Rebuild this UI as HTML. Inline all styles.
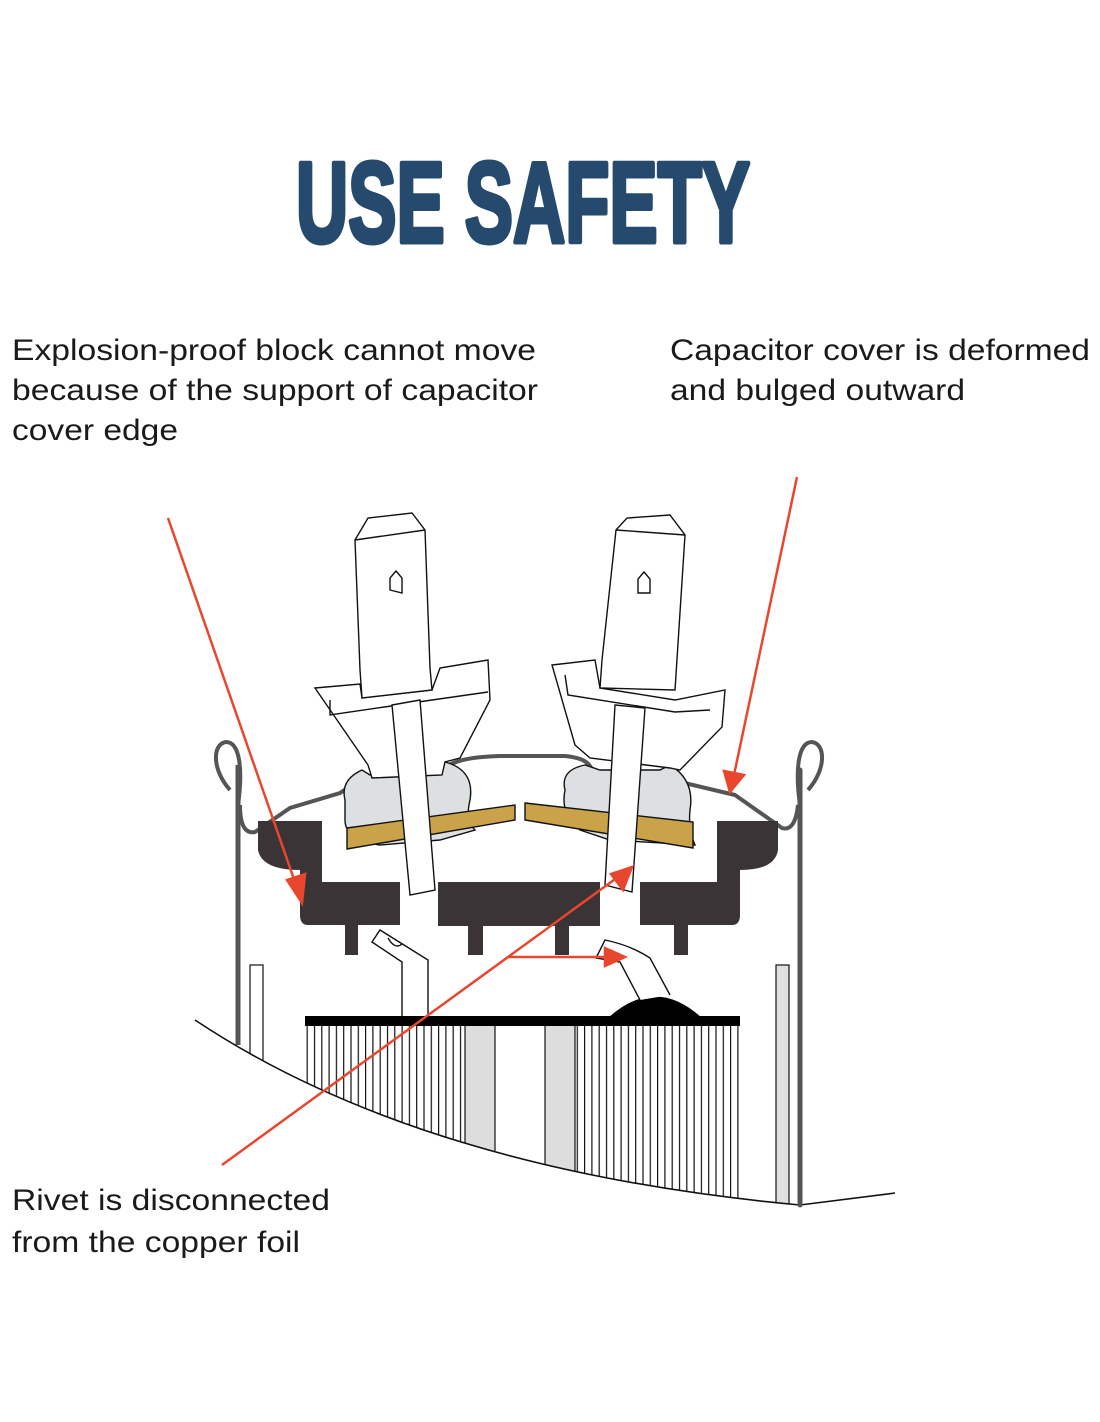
<!DOCTYPE html>
<html><head><meta charset="utf-8"><style>
html,body{margin:0;padding:0;background:#fff;}
svg{display:block;}
text{font-family:"Liberation Sans",sans-serif;}
</style></head><body>
<svg width="1100" height="1422" viewBox="0 0 1100 1422" xmlns="http://www.w3.org/2000/svg">
<defs>
<clipPath id="curve"><path d="M195,1020 Q420,1170 800,1205 L895,1193 L895,900 L195,900 Z"/></clipPath>
<pattern id="hatch" width="7.3" height="10" patternUnits="userSpaceOnUse"><rect width="7.3" height="10" fill="#fff"/><line x1="0.6" y1="0" x2="0.6" y2="10" stroke="#111" stroke-width="1.2"/></pattern>
</defs>
<rect width="1100" height="1422" fill="#fff"/>
<text x="296" y="242" font-size="114" font-weight="bold" fill="#264a6e" stroke="#264a6e" stroke-width="5" stroke-linejoin="round" textLength="454" lengthAdjust="spacingAndGlyphs">USE  SAFETY</text>
<g font-size="30" fill="#1a1a1a">
<text x="12" y="360" textLength="524" lengthAdjust="spacingAndGlyphs">Explosion-proof block cannot move</text>
<text x="12" y="400" textLength="526" lengthAdjust="spacingAndGlyphs">because of the support of capacitor</text>
<text x="12" y="440" textLength="166" lengthAdjust="spacingAndGlyphs">cover edge</text>
<text x="670" y="360" textLength="420" lengthAdjust="spacingAndGlyphs">Capacitor cover is deformed</text>
<text x="670" y="400" textLength="295" lengthAdjust="spacingAndGlyphs">and bulged outward</text>
<text x="12" y="1210" textLength="318" lengthAdjust="spacingAndGlyphs">Rivet is disconnected</text>
<text x="12" y="1252" textLength="288" lengthAdjust="spacingAndGlyphs">from the copper foil</text>
</g>

<!-- left wall -->
<path d="M238,1045 L238,765" stroke="#555" stroke-width="5" fill="none"/>
<!-- bottom hatched foil -->
<g clip-path="url(#curve)">
<rect x="305" y="1022" width="163" height="200" fill="url(#hatch)"/>
<rect x="573" y="1022" width="167" height="200" fill="url(#hatch)"/>
<rect x="465" y="1022" width="30" height="200" fill="#ddd" stroke="#111" stroke-width="1.2"/>
<rect x="545" y="1022" width="30" height="200" fill="#ddd" stroke="#111" stroke-width="1.2"/>
<rect x="250" y="965" width="13" height="200" fill="#fff" stroke="#111" stroke-width="1.2"/>
<rect x="776" y="965" width="13" height="260" fill="#e0e0e0" stroke="#111" stroke-width="1.2"/>
</g>
<path d="M195,1020 Q420,1170 800,1205 L895,1193" fill="none" stroke="#111" stroke-width="1.6"/>
<rect x="305" y="1016" width="435" height="10" fill="#000"/>
<path d="M608,1018 Q655,975 702,1018 Z" fill="#000"/>
<!-- right wall -->
<path d="M800,1205 L800,770" stroke="#555" stroke-width="5" fill="none" stroke-linecap="round"/>
<path d="M800,805 C795,770 798,742 812,742 C826,744 826,770 808,790" stroke="#555" stroke-width="4" fill="none"/>
<path d="M238,805 C243,770 240,742 226,742 C212,744 212,770 230,790" stroke="#555" stroke-width="4" fill="none"/>
<!-- cover -->
<path d="M240,805 Q240,835 255,832 L290,808 L340,793 L362,778" stroke="#555" stroke-width="4" fill="none"/>
<path d="M440,770 C455,760 470,757 500,756 L565,756 C585,758 590,764 592,770" stroke="#555" stroke-width="4" fill="none"/>
<path d="M672,780 L735,795 L782,828 Q795,832 798,805" stroke="#555" stroke-width="4" fill="none"/>

<!-- dark blocks -->
<g fill="#3a3436">
<path d="M258,821 L322,821 L322,882 L400,882 L400,925 L308,925 Q300,925 300,915 L300,870 Q262,870 258,850 Z"/>
<rect x="438" y="882" width="162" height="44"/>
<path d="M778,821 L717,821 L717,882 L640,882 L640,925 L732,925 Q740,925 740,915 L740,870 Q775,870 778,850 Z"/>
<rect x="345" y="925" width="13" height="30"/>
<rect x="468" y="925" width="15" height="30"/>
<rect x="555" y="925" width="14" height="30"/>
<rect x="674" y="925" width="14" height="30"/>
</g>

<!-- broken rivets -->
<g fill="#fff" stroke="#111" stroke-width="1.4">
<path d="M402,1016 L402,962 L372,942 L380,930 L428,960 L428,1016"/>
<path d="M388,938 Q395,950 402,944" fill="none"/>
<path d="M640,1000 L620,962 L596,958 L605,940 Q630,945 650,958 L670,995"/>
</g>

<!-- left terminal -->
<g stroke="#111" stroke-width="1.4">
<path d="M345,800 Q340,780 362,770 L370,775 L380,768 L440,768 L445,762 Q475,770 470,800 Q465,820 475,830 L440,840 L380,845 Q345,840 345,820 Z" fill="#dde0e3"/>
<path d="M347,828 L515,805 L515,820 L347,849 Z" fill="#c9a24a"/>
<path d="M315,688 L360,684 L362,698 L432,690 L440,668 L488,660 L490,700 L460,758 L445,762 L442,775 L372,778 L368,765 Z" fill="#fff"/>
<path d="M330,700 L330,715 L432,700 L488,692" fill="none"/>
<path d="M392,705 L420,700 L435,890 L410,895 Z" fill="#fff"/>
<path d="M355,540 L368,518 L412,513 L425,530 L430,668 L432,690 L362,698 L360,670 Z" fill="#fff"/>
<path d="M355,540 L425,530" fill="none"/>
<path d="M390,590 L390,578 L396,571 L402,578 L402,593 Z" fill="#fff"/>
</g>
<!-- right terminal -->
<g stroke="#111" stroke-width="1.4">
<path d="M565,790 Q560,770 585,765 L600,770 L660,770 L670,765 Q695,780 690,810 Q688,830 695,845 L610,840 L580,830 Q560,815 565,790 Z" fill="#dde0e3"/>
<path d="M525,803 L693,822 L693,848 L525,820 Z" fill="#c9a24a"/>
<path d="M552,665 L595,660 L600,688 L675,700 L725,690 L722,727 L680,770 L670,768 L590,758 L575,745 Z" fill="#fff"/>
<path d="M565,675 L568,695 L675,712 L710,710" fill="none"/>
<path d="M615,705 L645,708 L632,892 L605,885 Z" fill="#fff"/>
<path d="M616,530 L627,518 L670,515 L685,535 L675,690 L600,688 L602,660 Z" fill="#fff"/>
<path d="M616,530 L685,535" fill="none"/>
<path d="M638,593 L638,579 L644,572 L650,579 L650,593 Z" fill="#fff"/>
</g>

<!-- red arrows -->
<g stroke="#e8472e" stroke-width="2.5" fill="#e8472e">
<line x1="168" y1="518" x2="296" y2="885"/>
<path d="M302,903 L287,880 L305,874 Z"/>
<line x1="797" y1="477" x2="734" y2="775"/>
<path d="M730,792 L724,771 L744,775 Z"/>
<line x1="222" y1="1165" x2="618" y2="877"/>
<path d="M632,867 L623,890 L611,874 Z"/>
<line x1="508" y1="957" x2="610" y2="957"/>
<path d="M625,957 L605,948 L605,966 Z"/>
</g>
</svg>
</body></html>
